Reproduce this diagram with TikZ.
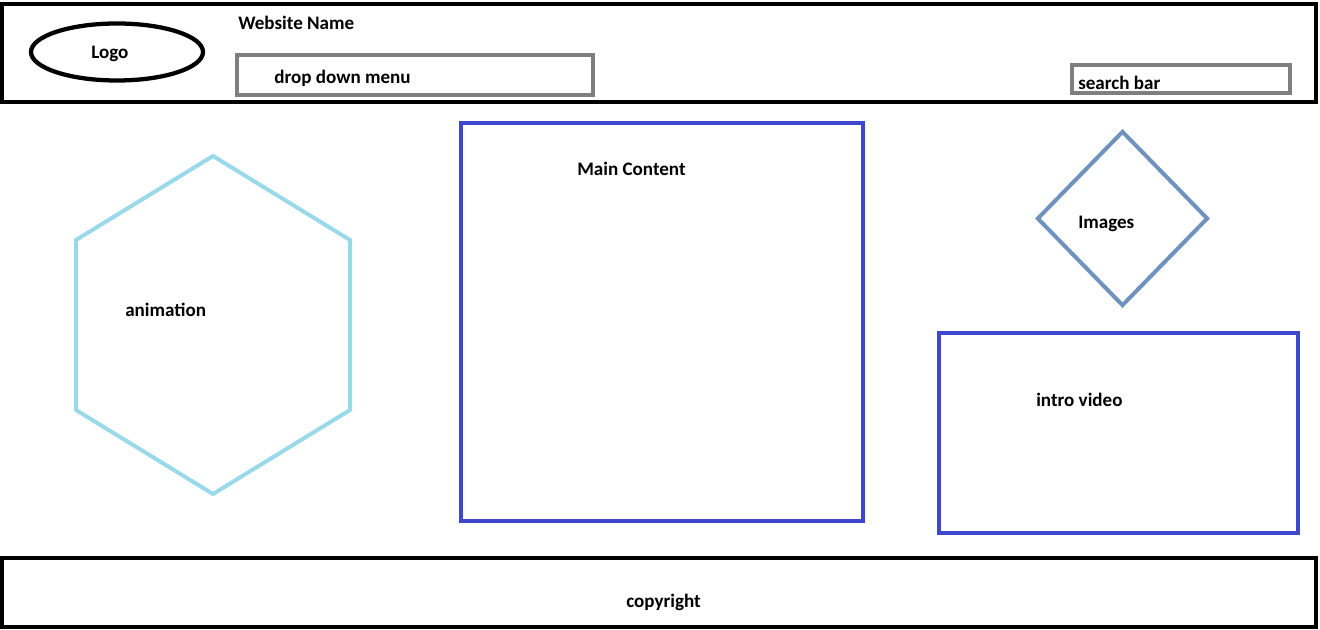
\documentclass[tikz,border=0pt]{standalone}
\usepackage{fontspec}
\setmainfont{Carlito}
\usepackage{tikz}
\usetikzlibrary{shapes.geometric,positioning}
\definecolor{frame}{RGB}{0,0,0}
\definecolor{menu}{RGB}{127,127,127}
\definecolor{indigo}{RGB}{63,72,204}
\definecolor{turquoise}{RGB}{153,217,234}
\definecolor{bluegray}{RGB}{112,146,190}

\begin{document}
\begin{tikzpicture}[x=0.75pt, y=-0.75pt,
    box/.style={rectangle, draw, line width=3.2pt, inner sep=0pt},
    bar/.style={box, draw=frame},
    field/.style={box, draw=menu},
    panel/.style={box, draw=indigo},
    label/.style={anchor=west, inner sep=0pt, yshift=-1.2pt, font=\fontsize{14.3}{17}\selectfont\bfseries}
]
    \useasboundingbox (0,0) rectangle (1320,630);
    % header
    \node[bar, minimum width=985.5pt, minimum height=73.5pt] (header) at (659,53) {};
    \node[ellipse, draw=frame, line width=3.2pt, inner sep=0pt, minimum width=129pt, minimum height=42.75pt] (logo) at (117,52) {};
    \node[label] (logotext) at (91,52) {Logo};
    \node[label] (sitename) at (238,21) {Website Name};
    \node[field, minimum width=267pt, minimum height=30pt] (menu) at (415,75) {};
    \node[label] (menutext) at (274,77) {drop down menu};
    \node[field, minimum width=163.5pt, minimum height=21.4pt] (search) at (1181,79) {};
    \node[label] (searchtext) at (1078,81) {search bar};
    % body
    \draw[turquoise, line width=3pt] (213,156) -- (350,240) -- (350,410) -- (213,494) -- (76,410) -- (76,240) -- cycle;
    \node[label] (animation) at (125,308) {animation};
    \node[panel, minimum width=301pt, minimum height=298pt] (main) at (662,322) {};
    \node[label] (maintext) at (577,167) {Main Content};
    \node[diamond, draw=bluegray, line width=3pt, inner sep=0pt, minimum width=128.25pt, minimum height=131.25pt] (images) at (1122.5,218.5) {};
    \node[label] (imagestext) at (1078,222) {Images};
    \node[panel, minimum width=269.25pt, minimum height=150pt] (video) at (1118.5,433) {};
    \node[label] (videotext) at (1036,398) {intro video};
    % footer
    \node[bar, minimum width=985.5pt, minimum height=51.75pt] (footer) at (659,592.5) {};
    \node[label] (copyright) at (626,601) {copyright};
\end{tikzpicture}
\end{document}
